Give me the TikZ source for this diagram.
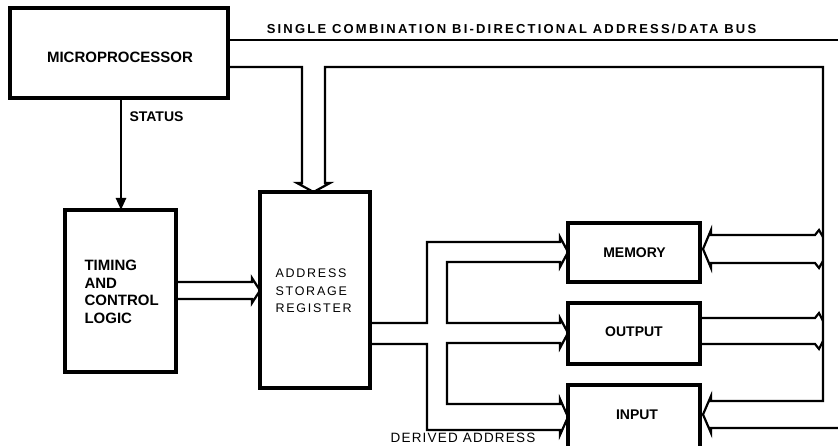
\documentclass[tikz,border=0pt]{standalone}
\usepackage{fontspec}
\setmainfont{Liberation Sans}
\usetikzlibrary{arrows.meta}
\begin{document}
\begin{tikzpicture}[x=1pt,y=-1pt,
  box/.style={draw, line width=3.2pt, inner sep=0pt, outer sep=0pt, anchor=north west},
  pipe/.style={line width=2.2pt, line join=miter, line cap=butt},
  bold14/.style={font=\fontsize{14}{16}\selectfont\bfseries},
  bold15/.style={font=\fontsize{15}{17.5}\selectfont\bfseries}]
\clip (0,0) rectangle (838,446);
\fill[white] (0,0) rectangle (838,446);
% boxes
\node[box, minimum width=218pt, minimum height=90pt] (micro) at (10,8) {};
\node[box, minimum width=111pt, minimum height=162pt] (timing) at (65,210) {};
\node[box, minimum width=110pt, minimum height=196pt] (asr) at (260,192) {};
\node[box, minimum width=132pt, minimum height=59pt] (memory) at (568,223) {};
\node[box, minimum width=132pt, minimum height=61pt] (output) at (568,303) {};
\node[box, minimum width=132pt, minimum height=64pt] (input) at (568,385) {};
% texts
\node[bold15] (tmicro) at (120,57) {MICROPROCESSOR};
\node[bold15, align=left, anchor=west] (ttiming) at (81,292) {TIMING\\AND\\CONTROL\\LOGIC};
\node[font=\fontsize{12.5}{17.5}\selectfont\addfontfeature{LetterSpace=14}, align=left, anchor=west] (tasr) at (272,291) {ADDRESS\\STORAGE\\REGISTER};
\node[bold14] (tmem) at (634.5,253) {MEMORY};
\node[bold14] (tout) at (634,332) {OUTPUT};
\node[bold14] (tin) at (637,415) {INPUT};
\node[bold14] (tstatus) at (156.5,117) {STATUS};
\node[font=\fontsize{13.5}{16}\selectfont\addfontfeature{LetterSpace=9}] (tderived) at (463,438) {DERIVED ADDRESS};
\node[font=\fontsize{13}{16}\selectfont\bfseries\addfontfeature{LetterSpace=17}] (tbus) at (511.5,29) {SINGLE COMBINATION BI-DIRECTIONAL ADDRESS/DATA BUS};
% status arrow
\draw[line width=2.4pt, -{Triangle[length=12pt,width=10pt]}] (micro.south -| 121,0) -- (timing.north -| 121,0);
% address/data bus
\draw[pipe] (micro.north east |- 0,40) -- (838,40);
\draw[pipe] (micro.north east |- 0,67) -- (302,67) -- (302,183) -- (297,183) -- (313.5,192)
            -- (330,183) -- (325,183) -- (325,67) -- (823,67) -- (823,401) -- (711,401)
            -- (711,396) -- (703,414.5) -- (711,433) -- (711,428) -- (838,428);
% memory <-> bus
\draw[pipe] (823,237) -- (819,230) -- (815,235) -- (711,235) -- (711,230) -- (703,249)
            -- (711,268) -- (711,263) -- (815,263) -- (819,268) -- (823,261);
% output -> bus
\draw[pipe] (output.east |- 0,318) -- (815,318) -- (819,313) -- (823,321);
\draw[pipe] (output.east |- 0,344) -- (815,344) -- (819,349) -- (823,341);
% timing -> asr
\draw[pipe] (timing.east |- 0,282) -- (252,282) -- (252,278) -- (asr.west |- 0,290.5)
            -- (252,303) -- (252,299) -- (timing.east |- 0,299);
% derived address pipes
\draw[pipe] (asr.east |- 0,323) -- (427,323) -- (427,242) -- (560,242) -- (560,237)
            -- (memory.west |- 0,252) -- (560,267) -- (560,262) -- (447,262) -- (447,323)
            -- (560,323) -- (560,318) -- (output.west |- 0,333) -- (560,348) -- (560,343)
            -- (447,343) -- (447,404) -- (560,404) -- (560,399) -- (input.west |- 0,417)
            -- (560,435) -- (560,430) -- (427,430) -- (427,344) -- (asr.east |- 0,344);
\end{tikzpicture}
\end{document}
